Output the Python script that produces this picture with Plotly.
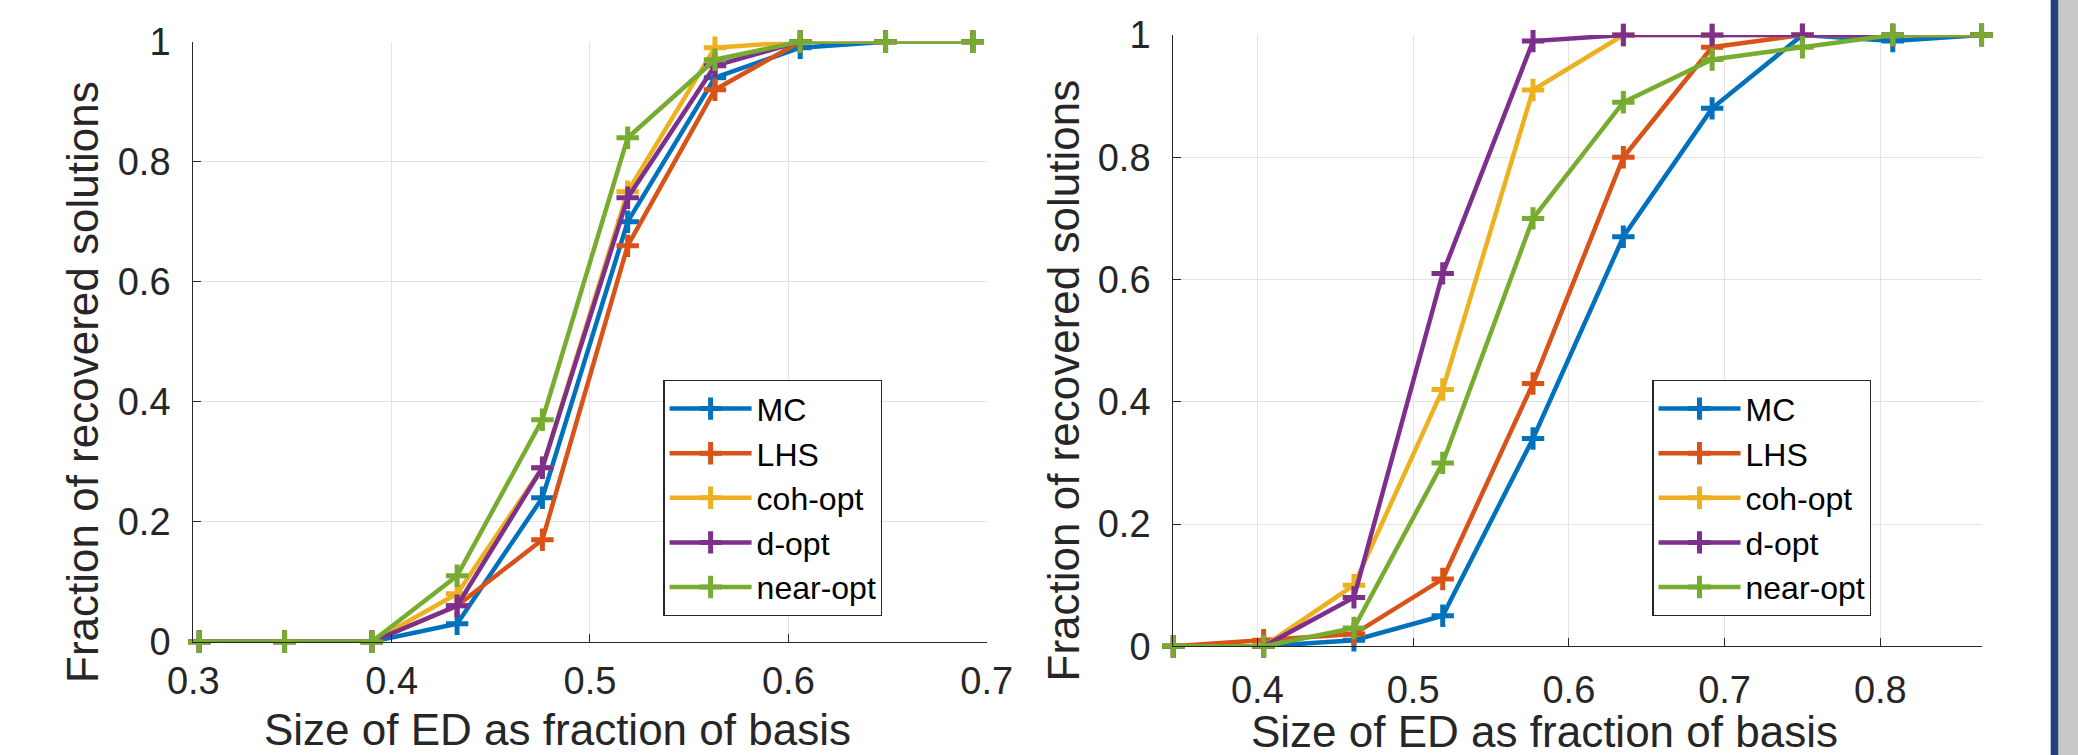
import plotly.graph_objects as go

# ---------------- data ----------------
series_names = ["MC", "LHS", "coh-opt", "d-opt", "near-opt"]
colors = ["#0072BD", "#D95319", "#EDB120", "#7E2F8E", "#77AC30"]

x_left = [0.303, 0.346, 0.390, 0.433, 0.476, 0.519, 0.563, 0.606, 0.649, 0.693]
mc_left = [0, 0, 0, 0.03, 0.24, 0.70, 0.94, 0.99, 1.0, 1.0]
lhs_left = [0, 0, 0, 0.06, 0.17, 0.66, 0.92, 1.0, 1.0, 1.0]
coh_left = [0, 0, 0, 0.08, 0.29, 0.75, 0.99, 1.0, 1.0, 1.0]
dopt_left = [0, 0, 0, 0.06, 0.29, 0.74, 0.96, 1.0, 1.0, 1.0]
near_left = [0, 0, 0, 0.11, 0.37, 0.84, 0.97, 1.0, 1.0, 1.0]

x_right = [0.346, 0.404, 0.462, 0.519, 0.577, 0.635, 0.692, 0.750, 0.808, 0.865]
mc_right = [0, 0, 0.01, 0.05, 0.34, 0.67, 0.88, 1.0, 0.99, 1.0]
lhs_right = [0, 0.01, 0.02, 0.11, 0.43, 0.80, 0.98, 1.0, 1.0, 1.0]
coh_right = [0, 0, 0.10, 0.42, 0.91, 1.0, 1.0, 1.0, 1.0, 1.0]
dopt_right = [0, 0, 0.08, 0.61, 0.99, 1.0, 1.0, 1.0, 1.0, 1.0]
near_right = [0, 0, 0.03, 0.30, 0.70, 0.89, 0.96, 0.98, 1.0, 1.0]

x_ticks_left = [0.3, 0.4, 0.5, 0.6, 0.7]
x_ticks_right = [0.4, 0.5, 0.6, 0.7, 0.8]
y_ticks = [0, 0.2, 0.4, 0.6, 0.8, 1.0]
y_tick_labels = ["0", "0.2", "0.4", "0.6", "0.8", "1"]

x_title = "Size of ED as fraction of basis"
y_title = "Fraction of recovered solutions"

left_series = [mc_left, lhs_left, coh_left, dopt_left, near_left]
right_series = [mc_right, lhs_right, coh_right, dopt_right, near_right]

# ---------------- figure ----------------
FONT = "Liberation Sans, Arial, Helvetica, sans-serif"
AX = "#262626"
GRID = "#e3e3e3"

fig = go.Figure()

for name, col, ys in zip(series_names, colors, left_series):
    fig.add_trace(go.Scatter(
        x=x_left, y=ys, name=name, mode="lines+markers",
        line=dict(color=col, width=4.5),
        marker=dict(symbol="cross-thin", size=16, color=col,
                    line=dict(color=col, width=5)),
        xaxis="x", yaxis="y", legend="legend", cliponaxis=False,
    ))

for name, col, ys in zip(series_names, colors, right_series):
    fig.add_trace(go.Scatter(
        x=x_right, y=ys, name=name, mode="lines+markers",
        line=dict(color=col, width=4.5),
        marker=dict(symbol="cross-thin", size=16, color=col,
                    line=dict(color=col, width=5)),
        xaxis="x2", yaxis="y2", legend="legend2", cliponaxis=False,
    ))

common_axis = dict(
    showline=True, linecolor=AX, linewidth=1.3, mirror=False,
    ticks="inside", ticklen=8, tickwidth=1.3, tickcolor=AX,
    showgrid=True, gridcolor=GRID, gridwidth=1.3,
    zeroline=False, automargin=False,
    tickfont=dict(family=FONT, size=38, color=AX),
)

legend_common = dict(
    xanchor="left", yanchor="top",
    bgcolor="white", bordercolor=AX, borderwidth=1.3,
    font=dict(family=FONT, size=32, color="black"),
    itemwidth=82, tracegroupgap=0,
)

fig.update_layout(
    width=2078, height=755, autosize=False,
    margin=dict(l=0, r=0, t=0, b=0, pad=0, autoexpand=False),
    paper_bgcolor="white", plot_bgcolor="white",
    font=dict(family=FONT, color=AX),
    xaxis=dict(domain=[0.09302, 0.47483], range=[0.3, 0.7],
               tickvals=x_ticks_left, ticktext=[f"{v:g}" for v in x_ticks_left],
               anchor="y", ticklabelstandoff=6, **common_axis),
    yaxis=dict(domain=[0.15006, 0.94477], range=[0, 1],
               tickvals=y_ticks, ticktext=y_tick_labels,
               anchor="x", ticklabelstandoff=14, **common_axis),
    xaxis2=dict(domain=[0.56463, 0.95395], range=[0.346, 0.8655],
                tickvals=x_ticks_right, ticktext=[f"{v:g}" for v in x_ticks_right],
                anchor="y2", ticklabelstandoff=10, **common_axis),
    yaxis2=dict(domain=[0.14397, 0.95364], range=[0, 1],
                tickvals=y_ticks, ticktext=y_tick_labels,
                anchor="x2", ticklabelstandoff=14, **common_axis),
    legend=dict(x=0.3192, y=0.4967, **legend_common),
    legend2=dict(x=0.7951, y=0.4967, **legend_common),
    showlegend=True,
)

title_font = dict(family=FONT, size=44, color=AX)
annotations = [
    dict(text=x_title, x=557.5 / 2078, y=(755 - 729) / 755, xref="paper", yref="paper",
         xanchor="center", yanchor="middle", showarrow=False, font=title_font),
    dict(text=x_title, x=1544 / 2078, y=(755 - 731) / 755, xref="paper", yref="paper",
         xanchor="center", yanchor="middle", showarrow=False, font=title_font),
    dict(text=y_title, x=82 / 2078, y=(755 - 382) / 755, xref="paper", yref="paper",
         xanchor="center", yanchor="middle", showarrow=False, textangle=-90, font=title_font),
    dict(text=y_title, x=1063.5 / 2078, y=(755 - 381) / 755, xref="paper", yref="paper",
         xanchor="center", yanchor="middle", showarrow=False, textangle=-90, font=title_font),
]
fig.update_layout(annotations=annotations)

# decorative page edge (slide border on the right)
fig.add_shape(type="rect", xref="paper", yref="paper", x0=2058.3 / 2078, x1=1.0,
              y0=0, y1=1, fillcolor="#c8c8c8", line=dict(width=0), layer="above")
fig.add_shape(type="rect", xref="paper", yref="paper", x0=2050.7 / 2078, x1=2058.3 / 2078,
              y0=0, y1=1, fillcolor="#23407f", line=dict(width=0), layer="above")

fig.write_html(
    "out.html",
    config={"displayModeBar": False},
    post_script="var s='margin:0;padding:0;overflow:hidden;';"
                "document.documentElement.style.cssText+=s;"
                "document.body.style.cssText+=s;",
)
